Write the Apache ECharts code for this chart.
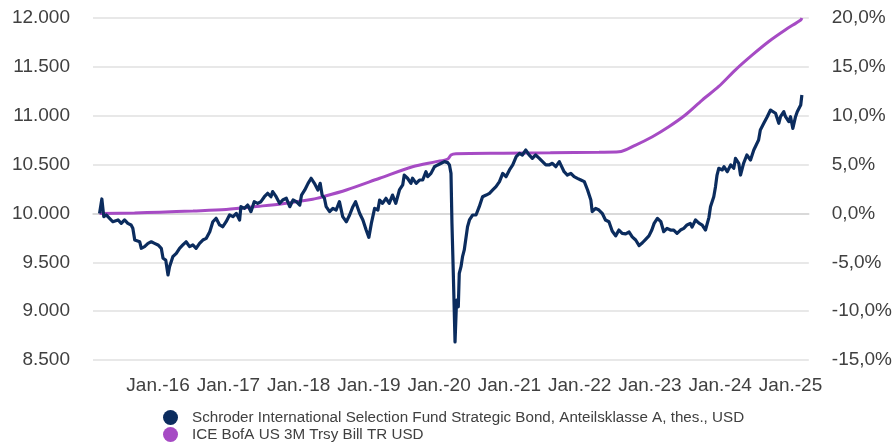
<!DOCTYPE html>
<html>
<head>
<meta charset="utf-8">
<script src="https://cdn.jsdelivr.net/npm/echarts@6/dist/echarts.min.js"></script>
<style>
  html, body { margin: 0; padding: 0; background: #fff; }
  #chart { width: 895px; height: 442px; }
</style>
</head>
<body>
<div id="chart"></div>
<script>
// Schroder fund, value of 10.000 USD invested
const fundDates = [
  '2015-03-03','2015-03-15','2015-03-25','2015-04-07','2015-04-24','2015-05-11','2015-05-20','2015-06-07','2015-06-24','2015-07-11','2015-07-28','2015-08-14','2015-08-23','2015-09-02','2015-09-10','2015-09-28','2015-10-06','2015-10-23','2015-11-10','2015-11-27','2015-12-14',
  '2016-01-01','2016-01-18','2016-01-27','2016-02-10','2016-02-22','2016-03-01','2016-03-18','2016-04-05','2016-04-22','2016-05-09','2016-05-26','2016-06-13','2016-06-30','2016-07-17','2016-08-04','2016-08-21','2016-09-08','2016-09-26','2016-10-12','2016-10-29','2016-11-16','2016-12-03','2016-12-20',
  '2017-01-07','2017-01-25','2017-02-11','2017-02-28','2017-03-07','2017-03-25','2017-04-11','2017-04-28','2017-05-15','2017-06-02','2017-06-19','2017-07-07','2017-07-24','2017-08-10','2017-08-19','2017-09-06','2017-09-24','2017-10-10','2017-10-29','2017-11-16','2017-12-03','2017-12-20',
  '2018-01-07','2018-01-16','2018-02-02','2018-02-19','2018-03-07','2018-03-24','2018-04-11','2018-04-23','2018-05-03','2018-05-15','2018-05-24','2018-06-11','2018-06-28','2018-07-15','2018-08-01','2018-08-18','2018-09-06','2018-09-23','2018-10-10','2018-10-24','2018-11-14','2018-12-01','2018-12-18',
  '2019-01-01','2019-01-14','2019-01-31','2019-02-17','2019-02-26','2019-03-13','2019-03-31','2019-04-17','2019-05-04','2019-05-21','2019-06-09','2019-06-26','2019-07-04','2019-07-21','2019-08-08','2019-08-16','2019-09-04','2019-09-21','2019-10-08','2019-10-25','2019-11-03','2019-11-20','2019-12-08','2019-12-25',
  '2020-01-12','2020-01-29','2020-02-15','2020-02-24','2020-03-03','2020-03-08','2020-03-15','2020-03-24','2020-04-01','2020-04-10','2020-04-15','2020-04-24','2020-05-02','2020-05-11','2020-05-28','2020-06-07','2020-06-24','2020-07-11','2020-07-28','2020-08-14','2020-09-02','2020-09-19','2020-10-06','2020-10-23','2020-11-10','2020-11-27','2020-12-14',
  '2021-01-01','2021-01-18','2021-02-05','2021-02-22','2021-03-09','2021-03-27','2021-04-05','2021-04-13','2021-04-30','2021-05-17','2021-06-05','2021-06-22','2021-07-09','2021-07-26','2021-08-12','2021-08-30','2021-09-17','2021-09-26','2021-10-12','2021-10-29','2021-11-16','2021-12-03','2021-12-20',
  '2022-01-07','2022-01-25','2022-02-11','2022-02-28','2022-03-07','2022-03-25','2022-04-11','2022-04-28','2022-05-15','2022-06-02','2022-06-19','2022-07-07','2022-07-24','2022-08-10','2022-08-28','2022-09-15','2022-10-01','2022-10-19','2022-11-06','2022-11-23','2022-12-10','2022-12-27',
  '2023-01-11','2023-01-23','2023-02-09','2023-02-27','2023-03-14','2023-03-31','2023-04-18','2023-05-05','2023-05-22','2023-06-09','2023-06-26','2023-07-13','2023-07-30','2023-08-08','2023-08-17','2023-08-26','2023-09-13','2023-09-30','2023-10-17','2023-11-04','2023-11-12','2023-11-29','2023-12-08','2023-12-16','2023-12-25',
  '2024-01-12','2024-01-21','2024-02-07','2024-02-25','2024-03-12','2024-03-21','2024-04-07','2024-04-16','2024-05-02','2024-05-19','2024-06-07','2024-06-24','2024-07-02','2024-07-19','2024-07-28','2024-08-15','2024-09-02','2024-09-19','2024-09-28','2024-10-15','2024-11-01','2024-11-10','2024-11-27','2024-12-06','2024-12-23',
  '2025-01-01','2025-01-13','2025-01-27','2025-02-05','2025-02-23','2025-03-01'
];
const fundValues = [
  10000,10148,9967,9984,9950,9915,9898,9933,9898,9933,9898,9882,9848,9728,9745,9710,9643,9660,9694,9710,9694,
  9677,9643,9541,9523,9370,9455,9557,9592,9643,9677,9710,9660,9677,9643,9694,9728,9745,9813,9915,9950,9882,9864,9915,
  9984,9967,10001,9933,10069,10052,10086,10018,10120,10103,10120,10171,10206,10171,10223,10171,10103,10137,10155,10069,10137,10120,
  10086,10188,10240,10308,10360,10308,10240,10308,10188,10155,10069,10018,10052,10035,10120,9967,9915,9984,10069,10120,10001,9933,9830,
  9755,9898,10052,10035,10137,10103,10155,10103,10188,10103,10240,10291,10393,10360,10308,10360,10308,10342,10342,10427,10376,10410,10478,10496,
  10513,10530,10520,10496,10410,9898,9387,8685,9114,9045,9387,9455,9557,9626,9864,9933,9984,9984,10069,10171,10188,10206,10240,10274,10325,10410,10376,
  10445,10496,10581,10615,10598,10649,10666,10598,10564,10598,10564,10530,10496,10496,10513,10478,10530,10513,10427,10393,10410,10376,10359,
  10342,10325,10240,10137,10018,10052,10035,10001,9933,9915,9820,9770,9830,9796,9790,9810,9760,9728,9670,9700,9735,9770,
  9830,9898,9950,9915,9813,9847,9830,9830,9796,9830,9847,9882,9898,9860,9847,9933,9900,9880,9830,9960,10069,10171,10274,10393,10462,
  10445,10478,10427,10496,10462,10564,10513,10393,10513,10598,10547,10649,10666,10752,10854,10922,10990,11058,11076,11025,10922,10990,11041,10990,10939,
  10990,10871,10990,11041,11110,11212
];

// ICE BofA US 3M Treasury Bill, cumulative return in %
const benchDates = [
  '2015-03-03','2015-09-01','2016-01-10','2016-07-01','2016-12-20','2017-06-12','2017-10-10','2018-03-15','2018-05-06','2018-09-06',
  '2019-02-26','2019-08-16','2019-12-17','2020-02-15','2020-03-03','2020-03-29','2020-12-01','2021-08-01','2022-04-11','2022-07-24',
  '2022-10-19','2023-01-14','2023-04-09','2023-07-04','2023-09-30','2023-12-25','2024-03-21','2024-06-15','2024-09-10','2024-12-06',
  '2025-02-23','2025-03-01'
];
const benchValues = [
  0, 0.05, 0.13, 0.25, 0.4, 0.74, 1.0, 1.45, 1.7, 2.4,
  3.6, 4.78, 5.3, 5.57, 5.98, 6.1, 6.16, 6.2, 6.26, 6.3,
  7.0, 7.85, 8.87, 10.07, 11.6, 13.0, 14.7, 16.2, 17.6, 18.8,
  19.8, 20.0
];

const labelYears = [2016, 2017, 2018, 2019, 2020, 2021, 2022, 2023, 2024, 2025];
const fundName = 'Schroder International Selection Fund Strategic Bond, Anteilsklasse A, thes., USD';
const benchName = 'ICE BofA US 3M Trsy Bill TR USD';

const fontFamily = '"Liberation Sans", Arial, sans-serif';
const labelColor = '#404040';

const toTime = (d) => new Date(d + 'T00:00:00').getTime();

function formatThousands(value) {
  const s = String(Math.round(value));
  return s.replace(/\B(?=(\d{3})+(?!\d))/g, '.');
}

const chart = echarts.init(document.getElementById('chart'), null, { renderer: 'canvas' });

chart.setOption({
  animation: false,
  textStyle: { fontFamily },
  grid: { left: 93, right: 85, top: 18, bottom: 82 },
  legend: {
    orient: 'vertical',
    left: 163,
    top: 410,
    height: 60,
    padding: 0,
    itemWidth: 15,
    itemHeight: 15,
    itemGap: 2,
    icon: 'circle',
    textStyle: {
      color: labelColor,
      fontSize: 15.2,
      fontFamily,
      padding: [0, 0, 0, 9],
    },
    data: [fundName, benchName],
  },
  xAxis: {
    type: 'value',
    min: toTime('2015-01-28'),
    max: toTime('2025-04-06'),
    axisLine: { show: true, lineStyle: { color: '#d4d4d4', width: 1.5 } },
    axisTick: { show: false },
    splitLine: { show: false },
    axisLabel: {
      color: labelColor,
      fontSize: 19,
      fontFamily,
      margin: 16,
      customValues: labelYears.map((y) => new Date(y, 0, 1).getTime()),
      formatter: (value) => 'Jan.-' + String(new Date(value).getFullYear()).slice(2),
    },
  },
  yAxis: [
    {
      type: 'value',
      min: 8500,
      max: 12000,
      interval: 500,
      axisLine: { show: false },
      axisTick: { show: false },
      splitLine: { lineStyle: { color: '#e0e0e0', width: 1.5 } },
      axisLabel: {
        color: labelColor,
        fontSize: 19,
        fontFamily,
        margin: 23,
        formatter: formatThousands,
      },
    },
    {
      type: 'value',
      min: -15,
      max: 20,
      interval: 5,
      axisLine: { show: false },
      axisTick: { show: false },
      splitLine: { show: false },
      axisLabel: {
        color: labelColor,
        fontSize: 19,
        fontFamily,
        margin: 23,
        formatter: (value) => value.toFixed(1).replace('.', ',') + '%',
      },
    },
  ],
  series: [
    {
      name: fundName,
      type: 'line',
      yAxisIndex: 0,
      data: fundDates.map((d, i) => [toTime(d), fundValues[i]]),
      showSymbol: false,
      symbol: 'circle',
      color: '#0b2c5e',
      lineStyle: { width: 3.2, color: '#0b2c5e', join: 'round' },
      z: 3,
    },
    {
      name: benchName,
      type: 'line',
      yAxisIndex: 1,
      data: benchDates.map((d, i) => [toTime(d), benchValues[i]]),
      showSymbol: false,
      symbol: 'circle',
      smooth: 0.3,
      color: '#a64bc4',
      lineStyle: { width: 3, color: '#a64bc4' },
      z: 2,
    },
  ],
});
</script>
</body>
</html>
